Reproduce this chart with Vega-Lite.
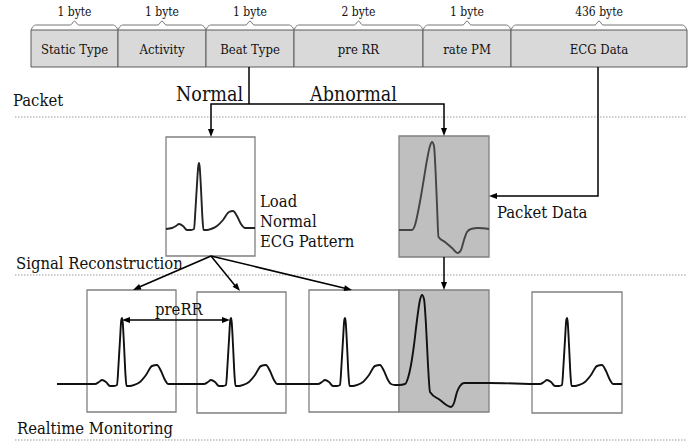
{
  "$schema": "https://vega.github.io/schema/vega-lite/v6.json",
  "width": 698,
  "height": 441,
  "padding": 0,
  "autosize": {"type": "none"},
  "background": "white",
  "config": {"view": {"stroke": null}, "axis": {"disable": true}},
  "datasets": {
    "seps": [{"y": 117}, {"y": 275}, {"y": 440}],
    "packet": [
      {"label": "Static Type", "bytes": "1 byte", "x0": 31, "x1": 118, "xc": 74.5},
      {"label": "Activity", "bytes": "1 byte", "x0": 118, "x1": 206, "xc": 162},
      {"label": "Beat Type", "bytes": "1 byte", "x0": 206, "x1": 294, "xc": 250},
      {"label": "pre RR", "bytes": "2 byte", "x0": 294, "x1": 423, "xc": 358.5},
      {"label": "rate PM", "bytes": "1 byte", "x0": 423, "x1": 511, "xc": 467},
      {"label": "ECG Data", "bytes": "436 byte", "x0": 511, "x1": 687, "xc": 599}
    ],
    "braces": [
      {"b":1,"o":1,"x":31,"y":30},{"b":1,"o":2,"x":33,"y":26.5},{"b":1,"o":3,"x":36,"y":25},{"b":1,"o":4,"x":70.5,"y":25},{"b":1,"o":5,"x":74.5,"y":21},{"b":1,"o":6,"x":78.5,"y":25},{"b":1,"o":7,"x":113,"y":25},{"b":1,"o":8,"x":116,"y":26.5},{"b":1,"o":9,"x":118,"y":30},
      {"b":2,"o":1,"x":118,"y":30},{"b":2,"o":2,"x":120,"y":26.5},{"b":2,"o":3,"x":123,"y":25},{"b":2,"o":4,"x":158,"y":25},{"b":2,"o":5,"x":162,"y":21},{"b":2,"o":6,"x":166,"y":25},{"b":2,"o":7,"x":201,"y":25},{"b":2,"o":8,"x":204,"y":26.5},{"b":2,"o":9,"x":206,"y":30},
      {"b":3,"o":1,"x":206,"y":30},{"b":3,"o":2,"x":208,"y":26.5},{"b":3,"o":3,"x":211,"y":25},{"b":3,"o":4,"x":246,"y":25},{"b":3,"o":5,"x":250,"y":21},{"b":3,"o":6,"x":254,"y":25},{"b":3,"o":7,"x":289,"y":25},{"b":3,"o":8,"x":292,"y":26.5},{"b":3,"o":9,"x":294,"y":30},
      {"b":4,"o":1,"x":294,"y":30},{"b":4,"o":2,"x":296,"y":26.5},{"b":4,"o":3,"x":299,"y":25},{"b":4,"o":4,"x":354.5,"y":25},{"b":4,"o":5,"x":358.5,"y":21},{"b":4,"o":6,"x":362.5,"y":25},{"b":4,"o":7,"x":418,"y":25},{"b":4,"o":8,"x":421,"y":26.5},{"b":4,"o":9,"x":423,"y":30},
      {"b":5,"o":1,"x":423,"y":30},{"b":5,"o":2,"x":425,"y":26.5},{"b":5,"o":3,"x":428,"y":25},{"b":5,"o":4,"x":463,"y":25},{"b":5,"o":5,"x":467,"y":21},{"b":5,"o":6,"x":471,"y":25},{"b":5,"o":7,"x":506,"y":25},{"b":5,"o":8,"x":509,"y":26.5},{"b":5,"o":9,"x":511,"y":30},
      {"b":6,"o":1,"x":511,"y":30},{"b":6,"o":2,"x":513,"y":26.5},{"b":6,"o":3,"x":516,"y":25},{"b":6,"o":4,"x":595,"y":25},{"b":6,"o":5,"x":599,"y":21},{"b":6,"o":6,"x":603,"y":25},{"b":6,"o":7,"x":682,"y":25},{"b":6,"o":8,"x":685,"y":26.5},{"b":6,"o":9,"x":687,"y":30}
    ],
    "boxes": [
      {"kind": "normal", "x": 166, "x2": 255, "y": 137, "y2": 256},
      {"kind": "abnormal", "x": 399, "x2": 489, "y": 136, "y2": 257},
      {"kind": "normal", "x": 87, "x2": 176, "y": 290, "y2": 412},
      {"kind": "normal", "x": 197, "x2": 286, "y": 292, "y2": 413},
      {"kind": "normal", "x": 309, "x2": 399, "y": 290, "y2": 412},
      {"kind": "abnormal", "x": 399, "x2": 489, "y": 290, "y2": 412},
      {"kind": "normal", "x": 532, "x2": 622, "y": 292, "y2": 413}
    ],
    "ecg": [
      {"s":"strip","o":1,"x":57,"y":384},
      {"s":"strip","o":2,"x":95,"y":384},{"s":"strip","o":3,"x":99,"y":382},{"s":"strip","o":4,"x":102,"y":380},{"s":"strip","o":5,"x":106,"y":382},{"s":"strip","o":6,"x":110,"y":386},{"s":"strip","o":7,"x":114,"y":386},{"s":"strip","o":8,"x":117,"y":385},{"s":"strip","o":9,"x":118.5,"y":365},{"s":"strip","o":10,"x":120,"y":340},{"s":"strip","o":11,"x":121.3,"y":320},{"s":"strip","o":12,"x":122,"y":318},{"s":"strip","o":13,"x":122.7,"y":322},{"s":"strip","o":14,"x":124,"y":345},{"s":"strip","o":15,"x":125.5,"y":375},{"s":"strip","o":16,"x":126.5,"y":386},{"s":"strip","o":17,"x":130,"y":386},{"s":"strip","o":18,"x":134,"y":385},{"s":"strip","o":19,"x":140,"y":382},{"s":"strip","o":20,"x":146,"y":375},{"s":"strip","o":21,"x":152,"y":366},{"s":"strip","o":22,"x":157,"y":365},{"s":"strip","o":23,"x":161,"y":371},{"s":"strip","o":24,"x":165,"y":380},{"s":"strip","o":25,"x":168,"y":384},{"s":"strip","o":26,"x":172,"y":384},
      {"s":"strip","o":27,"x":204,"y":384},{"s":"strip","o":28,"x":208,"y":382},{"s":"strip","o":29,"x":211,"y":380},{"s":"strip","o":30,"x":215,"y":382},{"s":"strip","o":31,"x":219,"y":386},{"s":"strip","o":32,"x":223,"y":386},{"s":"strip","o":33,"x":226,"y":385},{"s":"strip","o":34,"x":227.5,"y":365},{"s":"strip","o":35,"x":229,"y":340},{"s":"strip","o":36,"x":230.3,"y":320},{"s":"strip","o":37,"x":231,"y":318},{"s":"strip","o":38,"x":231.7,"y":322},{"s":"strip","o":39,"x":233,"y":345},{"s":"strip","o":40,"x":234.5,"y":375},{"s":"strip","o":41,"x":235.5,"y":386},{"s":"strip","o":42,"x":239,"y":386},{"s":"strip","o":43,"x":243,"y":385},{"s":"strip","o":44,"x":249,"y":382},{"s":"strip","o":45,"x":255,"y":375},{"s":"strip","o":46,"x":261,"y":366},{"s":"strip","o":47,"x":266,"y":365},{"s":"strip","o":48,"x":270,"y":371},{"s":"strip","o":49,"x":274,"y":380},{"s":"strip","o":50,"x":277,"y":384},{"s":"strip","o":51,"x":281,"y":384},
      {"s":"strip","o":52,"x":318,"y":384},{"s":"strip","o":53,"x":322,"y":382},{"s":"strip","o":54,"x":325,"y":380},{"s":"strip","o":55,"x":329,"y":382},{"s":"strip","o":56,"x":333,"y":386},{"s":"strip","o":57,"x":337,"y":386},{"s":"strip","o":58,"x":340,"y":385},{"s":"strip","o":59,"x":341.5,"y":365},{"s":"strip","o":60,"x":343,"y":340},{"s":"strip","o":61,"x":344.3,"y":320},{"s":"strip","o":62,"x":345,"y":318},{"s":"strip","o":63,"x":345.7,"y":322},{"s":"strip","o":64,"x":347,"y":345},{"s":"strip","o":65,"x":348.5,"y":375},{"s":"strip","o":66,"x":349.5,"y":386},{"s":"strip","o":67,"x":353,"y":386},{"s":"strip","o":68,"x":357,"y":385},{"s":"strip","o":69,"x":363,"y":382},{"s":"strip","o":70,"x":369,"y":375},{"s":"strip","o":71,"x":375,"y":366},{"s":"strip","o":72,"x":380,"y":365},{"s":"strip","o":73,"x":384,"y":371},{"s":"strip","o":74,"x":388,"y":380},{"s":"strip","o":75,"x":391,"y":384},{"s":"strip","o":76,"x":395,"y":385},
      {"s":"strip","o":77,"x":399,"y":385},{"s":"strip","o":78,"x":405,"y":384},{"s":"strip","o":79,"x":408,"y":378},{"s":"strip","o":80,"x":411,"y":365},{"s":"strip","o":81,"x":414,"y":345},{"s":"strip","o":82,"x":417,"y":320},{"s":"strip","o":83,"x":420,"y":300},{"s":"strip","o":84,"x":422,"y":295},{"s":"strip","o":85,"x":424,"y":299},{"s":"strip","o":86,"x":426,"y":325},{"s":"strip","o":87,"x":428,"y":365},{"s":"strip","o":88,"x":430,"y":392},{"s":"strip","o":89,"x":440,"y":400},{"s":"strip","o":90,"x":448,"y":406},{"s":"strip","o":91,"x":451,"y":407},{"s":"strip","o":92,"x":454,"y":403},{"s":"strip","o":93,"x":457,"y":392},{"s":"strip","o":94,"x":460,"y":386},{"s":"strip","o":95,"x":464,"y":383},{"s":"strip","o":96,"x":489,"y":383},
      {"s":"strip","o":97,"x":540,"y":384},{"s":"strip","o":98,"x":544,"y":382},{"s":"strip","o":99,"x":547,"y":380},{"s":"strip","o":100,"x":551,"y":382},{"s":"strip","o":101,"x":555,"y":386},{"s":"strip","o":102,"x":559,"y":386},{"s":"strip","o":103,"x":562,"y":385},{"s":"strip","o":104,"x":563.5,"y":365},{"s":"strip","o":105,"x":565,"y":340},{"s":"strip","o":106,"x":566.3,"y":320},{"s":"strip","o":107,"x":567,"y":318},{"s":"strip","o":108,"x":567.7,"y":322},{"s":"strip","o":109,"x":569,"y":345},{"s":"strip","o":110,"x":570.5,"y":375},{"s":"strip","o":111,"x":571.5,"y":386},{"s":"strip","o":112,"x":575,"y":386},{"s":"strip","o":113,"x":579,"y":385},{"s":"strip","o":114,"x":585,"y":382},{"s":"strip","o":115,"x":591,"y":375},{"s":"strip","o":116,"x":597,"y":366},{"s":"strip","o":117,"x":602,"y":365},{"s":"strip","o":118,"x":606,"y":371},{"s":"strip","o":119,"x":610,"y":380},{"s":"strip","o":120,"x":613,"y":384},{"s":"strip","o":121,"x":622,"y":384},
      {"s":"mid","o":1,"x":166,"y":229},{"s":"mid","o":2,"x":172,"y":228},{"s":"mid","o":3,"x":176,"y":226},{"s":"mid","o":4,"x":179,"y":224},{"s":"mid","o":5,"x":183,"y":226},{"s":"mid","o":6,"x":187,"y":230},{"s":"mid","o":7,"x":191,"y":230},{"s":"mid","o":8,"x":194,"y":229},{"s":"mid","o":9,"x":195.5,"y":209},{"s":"mid","o":10,"x":197,"y":184},{"s":"mid","o":11,"x":198.3,"y":166},{"s":"mid","o":12,"x":199,"y":163},{"s":"mid","o":13,"x":199.7,"y":167},{"s":"mid","o":14,"x":201,"y":189},{"s":"mid","o":15,"x":202.5,"y":219},{"s":"mid","o":16,"x":203.5,"y":230},{"s":"mid","o":17,"x":207,"y":230},{"s":"mid","o":18,"x":211,"y":229},{"s":"mid","o":19,"x":217,"y":226},{"s":"mid","o":20,"x":223,"y":220},{"s":"mid","o":21,"x":229,"y":212},{"s":"mid","o":22,"x":233,"y":211},{"s":"mid","o":23,"x":237,"y":216},{"s":"mid","o":24,"x":241,"y":224},{"s":"mid","o":25,"x":245,"y":228},{"s":"mid","o":26,"x":249,"y":228},{"s":"mid","o":27,"x":255,"y":228},
      {"s":"midabn","o":1,"x":399,"y":230},{"s":"midabn","o":2,"x":406,"y":230},{"s":"midabn","o":3,"x":412,"y":230},{"s":"midabn","o":4,"x":415,"y":225},{"s":"midabn","o":5,"x":418,"y":212},{"s":"midabn","o":6,"x":421,"y":196},{"s":"midabn","o":7,"x":424,"y":178},{"s":"midabn","o":8,"x":427,"y":160},{"s":"midabn","o":9,"x":430,"y":146},{"s":"midabn","o":10,"x":432,"y":142},{"s":"midabn","o":11,"x":434,"y":146},{"s":"midabn","o":12,"x":435.5,"y":170},{"s":"midabn","o":13,"x":437,"y":205},{"s":"midabn","o":14,"x":438.5,"y":237},{"s":"midabn","o":15,"x":445,"y":242},{"s":"midabn","o":16,"x":452,"y":248},{"s":"midabn","o":17,"x":458,"y":253},{"s":"midabn","o":18,"x":461,"y":250},{"s":"midabn","o":19,"x":464,"y":240},{"s":"midabn","o":20,"x":467,"y":232},{"s":"midabn","o":21,"x":471,"y":229},{"s":"midabn","o":22,"x":478,"y":228},{"s":"midabn","o":23,"x":489,"y":229}
    ],
    "connectors": [
      {"p":1,"o":1,"x":249,"y":67},{"p":1,"o":2,"x":249,"y":104},
      {"p":2,"o":1,"x":211,"y":133},{"p":2,"o":2,"x":211,"y":104},{"p":2,"o":3,"x":444,"y":104},{"p":2,"o":4,"x":444,"y":132},
      {"p":3,"o":1,"x":598,"y":67},{"p":3,"o":2,"x":598,"y":196},{"p":3,"o":3,"x":493,"y":196},
      {"p":4,"o":1,"x":444,"y":257},{"p":4,"o":2,"x":444,"y":286},
      {"p":5,"o":1,"x":211,"y":256},{"p":5,"o":2,"x":137,"y":288},
      {"p":6,"o":1,"x":211,"y":256},{"p":6,"o":2,"x":237,"y":288},
      {"p":7,"o":1,"x":211,"y":256},{"p":7,"o":2,"x":348,"y":289},
      {"p":8,"o":1,"x":126,"y":320},{"p":8,"o":2,"x":226,"y":320}
    ],
    "heads": [
      {"x":211,"y":137,"a":180},{"x":444,"y":136,"a":180},{"x":489,"y":196,"a":270},{"x":444,"y":290,"a":180},
      {"x":133,"y":290,"a":246},{"x":240,"y":291,"a":140},{"x":352,"y":290,"a":104},
      {"x":122,"y":320,"a":270},{"x":230,"y":320,"a":90}
    ],
    "bigtext": [
      {"t":"Normal","x":176,"y":101},
      {"t":"Abnormal","x":310,"y":101}
    ],
    "midtext": [
      {"t":"Packet","x":13,"y":106},
      {"t":"Signal Reconstruction","x":16,"y":269},
      {"t":"Realtime Monitoring","x":17,"y":434},
      {"t":"Load","x":260,"y":207},
      {"t":"Normal","x":260,"y":227},
      {"t":"ECG Pattern","x":260,"y":247},
      {"t":"Packet Data","x":497,"y":218},
      {"t":"preRR","x":155,"y":315}
    ]
  },
  "layer": [
    {
      "data": {"name": "seps"},
      "mark": {"type": "rule", "stroke": "#9a9a9a", "strokeWidth": 1, "strokeDash": [1.5, 1.5]},
      "encoding": {
        "x": {"datum": 15, "type": "quantitative", "scale": {"domain": [0, 698], "nice": false, "zero": false}, "axis": null},
        "x2": {"datum": 686},
        "y": {"field": "y", "type": "quantitative", "scale": {"domain": [0, 441], "nice": false, "zero": false, "reverse": true}, "axis": null}
      }
    },
    {
      "data": {"name": "packet"},
      "mark": {"type": "rect", "fill": "#d9d9d9", "stroke": "#5a5a5a", "strokeWidth": 1},
      "encoding": {
        "x": {"field": "x0", "type": "quantitative", "scale": {"domain": [0, 698], "nice": false, "zero": false}, "axis": null},
        "x2": {"field": "x1"},
        "y": {"datum": 30, "type": "quantitative", "scale": {"domain": [0, 441], "nice": false, "zero": false, "reverse": true}, "axis": null},
        "y2": {"datum": 67}
      }
    },
    {
      "data": {"name": "braces"},
      "mark": {"type": "line", "stroke": "#777777", "strokeWidth": 1, "interpolate": "monotone"},
      "encoding": {
        "x": {"field": "x", "type": "quantitative", "scale": {"domain": [0, 698], "nice": false, "zero": false}, "axis": null},
        "y": {"field": "y", "type": "quantitative", "scale": {"domain": [0, 441], "nice": false, "zero": false, "reverse": true}, "axis": null},
        "detail": {"field": "b"},
        "order": {"field": "o", "type": "quantitative"}
      }
    },
    {
      "data": {"name": "packet"},
      "mark": {"type": "text", "font": "DejaVu Serif Condensed, DejaVu Serif", "fontSize": 12, "align": "center", "baseline": "alphabetic", "fill": "#111111"},
      "encoding": {
        "x": {"field": "xc", "type": "quantitative", "scale": {"domain": [0, 698], "nice": false, "zero": false}, "axis": null},
        "y": {"datum": 16, "type": "quantitative", "scale": {"domain": [0, 441], "nice": false, "zero": false, "reverse": true}, "axis": null},
        "text": {"field": "bytes"}
      }
    },
    {
      "data": {"name": "packet"},
      "mark": {"type": "text", "font": "DejaVu Serif Condensed, DejaVu Serif", "fontSize": 13, "align": "center", "baseline": "alphabetic", "fill": "#111111"},
      "encoding": {
        "x": {"field": "xc", "type": "quantitative", "scale": {"domain": [0, 698], "nice": false, "zero": false}, "axis": null},
        "y": {"datum": 54, "type": "quantitative", "scale": {"domain": [0, 441], "nice": false, "zero": false, "reverse": true}, "axis": null},
        "text": {"field": "label"}
      }
    },
    {
      "data": {"name": "boxes"},
      "mark": {"type": "rect", "stroke": "#808080", "strokeWidth": 1.3},
      "encoding": {
        "x": {"field": "x", "type": "quantitative", "scale": {"domain": [0, 698], "nice": false, "zero": false}, "axis": null},
        "x2": {"field": "x2"},
        "y": {"field": "y", "type": "quantitative", "scale": {"domain": [0, 441], "nice": false, "zero": false, "reverse": true}, "axis": null},
        "y2": {"field": "y2"},
        "fill": {"field": "kind", "type": "nominal", "scale": {"domain": ["normal", "abnormal"], "range": ["#ffffff", "#bfbfbf"]}, "legend": null}
      }
    },
    {
      "data": {"name": "ecg"},
      "mark": {"type": "line", "strokeWidth": 1.9, "strokeJoin": "round", "interpolate": "monotone"},
      "encoding": {
        "x": {"field": "x", "type": "quantitative", "scale": {"domain": [0, 698], "nice": false, "zero": false}, "axis": null},
        "y": {"field": "y", "type": "quantitative", "scale": {"domain": [0, 441], "nice": false, "zero": false, "reverse": true}, "axis": null},
        "stroke": {"field": "s", "type": "nominal", "scale": {"domain": ["strip", "mid", "midabn"], "range": ["#111111", "#222222", "#444444"]}, "legend": null},
        "order": {"field": "o", "type": "quantitative"}
      }
    },
    {
      "data": {"name": "connectors"},
      "mark": {"type": "line", "stroke": "#000000", "strokeWidth": 1.5},
      "encoding": {
        "x": {"field": "x", "type": "quantitative", "scale": {"domain": [0, 698], "nice": false, "zero": false}, "axis": null},
        "y": {"field": "y", "type": "quantitative", "scale": {"domain": [0, 441], "nice": false, "zero": false, "reverse": true}, "axis": null},
        "detail": {"field": "p"},
        "order": {"field": "o", "type": "quantitative"}
      }
    },
    {
      "data": {"name": "heads"},
      "mark": {"type": "point", "shape": "M0,0L-0.75,2L0.75,2Z", "filled": true, "fill": "#000000", "opacity": 1, "size": 64, "strokeWidth": 0},
      "encoding": {
        "x": {"field": "x", "type": "quantitative", "scale": {"domain": [0, 698], "nice": false, "zero": false}, "axis": null},
        "y": {"field": "y", "type": "quantitative", "scale": {"domain": [0, 441], "nice": false, "zero": false, "reverse": true}, "axis": null},
        "angle": {"field": "a", "type": "quantitative", "scale": null}
      }
    },
    {
      "data": {"name": "bigtext"},
      "mark": {"type": "text", "font": "DejaVu Serif Condensed, DejaVu Serif", "fontSize": 19.5, "align": "left", "baseline": "alphabetic", "fill": "#111111"},
      "encoding": {
        "x": {"field": "x", "type": "quantitative", "scale": {"domain": [0, 698], "nice": false, "zero": false}, "axis": null},
        "y": {"field": "y", "type": "quantitative", "scale": {"domain": [0, 441], "nice": false, "zero": false, "reverse": true}, "axis": null},
        "text": {"field": "t"}
      }
    },
    {
      "data": {"name": "midtext"},
      "mark": {"type": "text", "font": "DejaVu Serif Condensed, DejaVu Serif", "fontSize": 16.5, "align": "left", "baseline": "alphabetic", "fill": "#111111"},
      "encoding": {
        "x": {"field": "x", "type": "quantitative", "scale": {"domain": [0, 698], "nice": false, "zero": false}, "axis": null},
        "y": {"field": "y", "type": "quantitative", "scale": {"domain": [0, 441], "nice": false, "zero": false, "reverse": true}, "axis": null},
        "text": {"field": "t"}
      }
    }
  ]
}
